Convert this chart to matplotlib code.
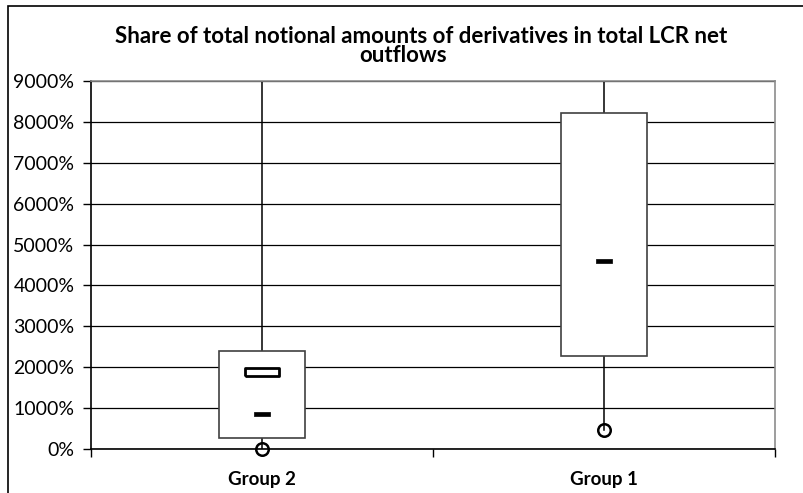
import numpy as np
import matplotlib
matplotlib.use("Agg")
import matplotlib.pyplot as plt
from matplotlib.patches import Rectangle

# ---- data (percent) ----
categories = ["Group 2", "Group 1"]
q1 = [280, 2280]
q3 = [2400, 8210]
median = [860, 4590]
mean = [1880, np.nan]          # Group 1 mean lies above the visible range
upper = [9000, 9000]           # upper whiskers run past the top of the axis
minimum = [0, 465]
yticks = list(range(0, 9001, 1000))
title_lines = ["Share of total notional amounts of derivatives in total LCR net", "outflows"]

plt.rcParams['font.family'] = ['Lato', 'DejaVu Sans']

fig = plt.figure(figsize=(8.04, 4.93), dpi=100)
# chart-area border
fig.patches.append(Rectangle((8 / 804, -0.1), 1.2, 1.1 - 6 / 493, transform=fig.transFigure,
                             fill=False, edgecolor='black', linewidth=1.2, zorder=0))

ax = fig.add_axes([91 / 804, 1 - 449 / 493, 684 / 804, 368 / 493])
ax.set_xlim(0, 2)
ax.set_ylim(0, 9000)

ax.set_yticks(yticks)
ax.set_yticklabels([f"{v}%" for v in yticks], fontsize=14)
ax.yaxis.grid(True, color='black', linewidth=0.9)
ax.set_axisbelow(True)

ax.set_xticks([0, 1, 2])
ax.set_xticklabels([])
ax.set_xticks([0.5, 1.5], minor=True)
ax.set_xticklabels(categories, minor=True, fontsize=13.5, fontweight='bold')
ax.tick_params(axis='x', which='minor', length=0, pad=16)
ax.tick_params(axis='x', which='major', length=6, width=1, color='black')
ax.tick_params(axis='y', length=6, width=1, color='black', pad=6)

for s in ['left', 'bottom']:
    ax.spines[s].set_color('black')
    ax.spines[s].set_linewidth(1.2)
for s in ['top', 'right']:
    ax.spines[s].set_color('#8c8c8c')
    ax.spines[s].set_linewidth(1.2)

pos = [0.5, 1.5]
bw = 86 / 342
for i, x in enumerate(pos):
    # whiskers
    ax.plot([x, x], [q3[i], upper[i]], color='black', lw=1.1, zorder=2, clip_on=True)
    ax.plot([x, x], [minimum[i], q1[i]], color='black', lw=1.1, zorder=2)
    # box
    ax.add_patch(Rectangle((x - bw / 2, q1[i]), bw, q3[i] - q1[i], facecolor='white',
                           edgecolor='#404040', linewidth=1.2, zorder=3))

rect_hollow = [(-2, -0.5), (2, -0.5), (2, 0.5), (-2, 0.5), (-2, -0.5)]
rect_dash = [(-1.6, -0.5), (1.6, -0.5), (1.6, 0.5), (-1.6, 0.5), (-1.6, -0.5)]
ax.plot(pos, median, linestyle='none', marker=rect_dash, markersize=11,
        markerfacecolor='black', markeredgecolor='black', markeredgewidth=0.5, zorder=5)
ax.plot(pos, mean, linestyle='none', marker=rect_hollow, markersize=24,
        markerfacecolor='white', markeredgecolor='black', markeredgewidth=2, zorder=5)
ax.plot(pos, minimum, linestyle='none', marker='o', markersize=9,
        markerfacecolor='none', markeredgecolor='black', markeredgewidth=1.8, zorder=5, clip_on=False)

fig.text(421 / 804, 1 - 43 / 493, title_lines[0], ha='center', va='baseline',
         fontsize=16, fontweight='bold')
fig.text(403 / 804, 1 - 62 / 493, title_lines[1], ha='center', va='baseline',
         fontsize=16, fontweight='bold')

fig.savefig("out.png", dpi=100)
